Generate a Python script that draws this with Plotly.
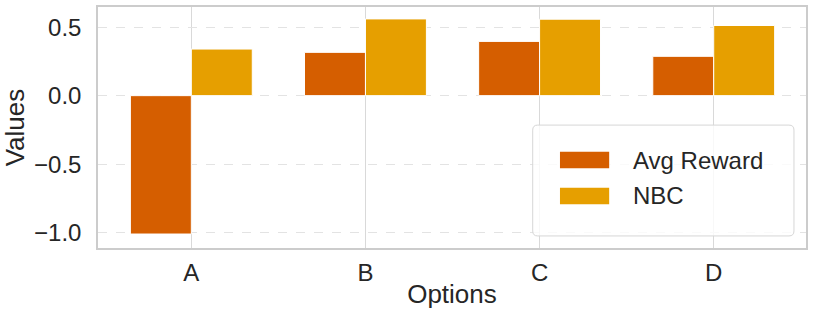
import plotly.graph_objects as go

# данные
options = ["A", "B", "C", "D"]
avg_reward = [-1.01, 0.316, 0.396, 0.287]
nbc = [0.34, 0.56, 0.558, 0.512]
y_ticks = [-1.0, -0.5, 0.0, 0.5]
y_tick_labels = ["\u22121.0", "\u22120.5", "0.0", "0.5"]
series_names = ["Avg Reward", "NBC"]
colors = ["#D55E00", "#E69F00"]

FONT = "Liberation Sans, Arial, sans-serif"
GRID = "#d9d9d9"
TXT = "#262626"

fig = go.Figure()

for name, vals, col in zip(series_names, [avg_reward, nbc], colors):
    fig.add_trace(go.Bar(
        x=options, y=vals, name=name,
        marker=dict(color=col, line=dict(color="white", width=1)),
    ))

# легенда вручную: широкие плашки как в matplotlib
x0, x1, y0, y1 = 0.614, 0.983, 0.05, 0.51
rx, ry = 5 / 708, 5 / 241
fig.add_shape(
    type="path", xref="paper", yref="paper", layer="above",
    path=(f"M {x0+rx},{y0} L {x1-rx},{y0} Q {x1},{y0} {x1},{y0+ry} "
          f"L {x1},{y1-ry} Q {x1},{y1} {x1-rx},{y1} L {x0+rx},{y1} "
          f"Q {x0},{y1} {x0},{y1-ry} L {x0},{y0+ry} Q {x0},{y0} {x0+rx},{y0} Z"),
    fillcolor="rgba(255,255,255,0.8)", line=dict(color="#d6d6d6", width=1),
)
for i, (name, col) in enumerate(zip(series_names, colors)):
    yc = 0.365 - i * 0.149
    fig.add_shape(type="rect", xref="paper", yref="paper", layer="above",
                  x0=0.6525, x1=0.722, y0=yc - 0.034, y1=yc + 0.034,
                  fillcolor=col, line=dict(width=0))
    fig.add_annotation(x=0.753, y=yc, xref="paper", yref="paper",
                       text=name, showarrow=False, xanchor="left", yanchor="middle",
                       font=dict(size=24, color=TXT, family=FONT))

fig.update_layout(
    width=814, height=321,
    margin=dict(l=98, r=8, t=7, b=73),
    barmode="group", bargap=0.3, bargroupgap=0,
    plot_bgcolor="white", paper_bgcolor="white",
    font=dict(family=FONT, size=24, color=TXT),
    showlegend=False,
    xaxis=dict(
        range=[-0.536, 3.53], showgrid=True, gridcolor=GRID, gridwidth=1,
        showline=True, mirror=True, linecolor="#cccccc", linewidth=1.5,
        ticks="", tickfont=dict(size=24), ticklabelstandoff=2,
        automargin=False,
        title=dict(text="Options", font=dict(size=26), standoff=0),
    ),
    yaxis=dict(
        range=[-1.112, 0.647], tickvals=y_ticks, ticktext=y_tick_labels,
        showgrid=True, gridcolor="#e3e3e3", griddash="dash", gridwidth=1,
        zeroline=False,
        showline=True, mirror=True, linecolor="#cccccc", linewidth=1.5,
        ticks="", tickfont=dict(size=24), ticklabelstandoff=10,
        automargin=False,
        title=dict(text="Values", font=dict(size=26), standoff=6),
    ),
)

# убираем стандартный отступ body, чтобы фигура встала в угол окна
fig.write_html("out.html", config={"displayModeBar": False},
               post_script="document.body.style.margin='0';")
